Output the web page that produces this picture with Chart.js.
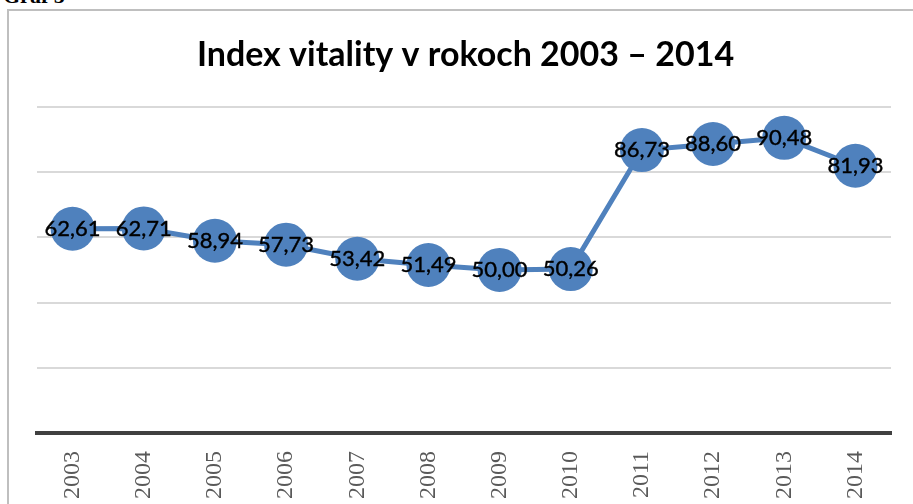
<!DOCTYPE html>
<html>
<head>
<meta charset="utf-8">
<script src="https://cdn.jsdelivr.net/npm/chart.js@4"></script>
<style>
	html, body { margin: 0; padding: 0; background: #fff; overflow: hidden; }
	.page { position: relative; width: 913px; height: 504px; }
	.caption { position: absolute; left: 3px; top: -15px; font: bold 22px "Liberation Serif", serif; line-height: 22px; color: #000; }
	.frame { position: absolute; left: 7px; top: 9px; width: 920px; height: 520px; border: 2px solid #bfbfbf; }
	canvas { position: absolute; left: 0; top: 0; }
</style>
</head>
<body>
<div class="page">
	<div class="caption">Graf 5</div>
	<div class="frame"></div>
	<canvas id="vitality" width="913" height="504"></canvas>
</div>
<script>
	const years = ['2003', '2004', '2005', '2006', '2007', '2008', '2009', '2010', '2011', '2012', '2013', '2014'];
	const vitality = [62.61, 62.71, 58.94, 57.73, 53.42, 51.49, 50.00, 50.26, 86.73, 88.60, 90.48, 81.93];
	const chartTitle = 'Index vitality v rokoch 2003 \u2013 2014';

	const blue = '#4f81bd';

	// labels centred on each marker, decimal comma
	const pointLabels = {
		id: 'pointLabels',
		afterDatasetsDraw(chart) {
			const ctx = chart.ctx;
			const meta = chart.getDatasetMeta(0);
			ctx.save();
			ctx.font = '22px Lato';
			ctx.fillStyle = '#000';
			ctx.strokeStyle = '#000';
			ctx.lineWidth = 0.4;
			ctx.textAlign = 'center';
			ctx.textBaseline = 'middle';
			meta.data.forEach((pt, i) => {
				const txt = vitality[i].toFixed(2).replace('.', ',');
				ctx.fillText(txt, pt.x, pt.y);
				ctx.strokeText(txt, pt.x, pt.y);
			});
			ctx.restore();
		}
	};

	new Chart(document.getElementById('vitality'), {
		type: 'line',
		data: {
			labels: years,
			datasets: [{
				data: vitality,
				borderColor: blue,
				backgroundColor: blue,
				borderWidth: 5,
				pointRadius: 22,
				pointBorderWidth: 0,
				pointBackgroundColor: blue,
				tension: 0
			}]
		},
		options: {
			responsive: false,
			animation: false,
			events: [],
			layout: { padding: { left: 37, right: 19, top: 0, bottom: 0 } },
			plugins: {
				legend: { display: false },
				tooltip: { enabled: false },
				title: {
					display: true,
					text: chartTitle,
					color: '#000',
					font: { family: 'Lato', size: 34, weight: 'bold', lineHeight: 1.2 },
					padding: { top: 35, bottom: 31 }
				}
			},
			scales: {
				x: {
					offset: true,
					grid: { display: false },
					border: { display: true, color: '#404040', width: 4 },
					ticks: {
						color: '#595959',
						font: { family: 'Liberation Serif', size: 24 },
						minRotation: 90,
						maxRotation: 90,
						padding: 10
					},
					afterFit(axis) { axis.height = 71; }
				},
				y: {
					min: 0,
					max: 100,
					ticks: { display: false, stepSize: 20 },
					grid: { color: '#d9d9d9', lineWidth: 2, drawTicks: false },
					border: { display: false }
				}
			}
		},
		plugins: [pointLabels]
	});
</script>
</body>
</html>
